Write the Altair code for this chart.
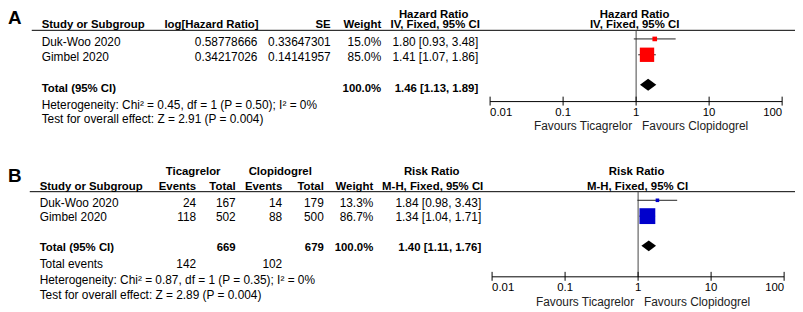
import altair as alt
import pandas as pd

# ---------------- data ----------------
studies = ["Duk-Woo 2020", "Gimbel 2020"]

# Panel A: hazard ratio (IV, fixed)
log_hr = ["0.58778666", "0.34217026"]
se_hr = ["0.33647301", "0.14141957"]
hr_weight = [15.0, 85.0]
hr_est = [1.80, 1.41]
hr_lo = [0.93, 1.07]
hr_hi = [3.48, 1.86]
hr_total = [1.46, 1.13, 1.89]
hr_het = "Heterogeneity: Chi² = 0.45, df = 1 (P = 0.50); I² = 0%"
hr_test = "Test for overall effect: Z = 2.91 (P = 0.004)"

# Panel B: risk ratio (M-H, fixed)
tica_events = [24, 118]
tica_total = [167, 502]
clop_events = [14, 88]
clop_total = [179, 500]
rr_weight = [13.3, 86.7]
rr_est = [1.84, 1.34]
rr_lo = [0.98, 1.04]
rr_hi = [3.43, 1.71]
rr_total = [1.40, 1.11, 1.76]
tica_sum = [142, 669]
clop_sum = [102, 679]
rr_het = "Heterogeneity: Chi² = 0.87, df = 1 (P = 0.35); I² = 0%"
rr_test = "Test for overall effect: Z = 2.89 (P = 0.004)"

tick_values = [0.01, 0.1, 1, 10, 100]
tick_labels = ["0.01", "0.1", "1", "10", "100"]

# ---------------- layout helpers ----------------
FONT = "Liberation Sans"
M = 8  # page margin
DA = 3  # vertical shift of panel A


def X(v):
    return v - M


def Y(v):
    return v - M


texts = []


def T(t, x, y, align="left", bold=False, size=12):
    texts.append(dict(t=str(t), x=X(x), y=Y(y), align=align, bold=bold, size=size))


def fmt_ci(e, lo, hi):
    return f"{e:.2f} [{lo:.2f}, {hi:.2f}]"


# ---------------- panel A texts ----------------
T("A", 8, 16.5, "left", True, 19)
T("Hazard Ratio", 438, 13.5, "center", True, 11.5)
T("Hazard Ratio", 641, 13.5, "center", True, 11.5)
hA = 21 + DA
T("Study or Subgroup", 42, hA, "left", True, 11.5)
T("log[Hazard Ratio]", 166, hA, "left", True, 11.5)
T("SE", 334, hA, "right", True, 11.5)
T("Weight", 385, hA, "right", True, 11.5)
T("IV, Fixed, 95% CI", 439.5, hA, "center", True, 11.5)
T("IV, Fixed, 95% CI", 641, hA, "center", True, 11.5)
rowsA = [38 + DA, 53 + DA]
for i, s in enumerate(studies):
    y = rowsA[i]
    T(s, 42, y)
    T(log_hr[i], 260, y, "right")
    T(se_hr[i], 334, y, "right")
    T(f"{hr_weight[i]:.1f}%", 385, y, "right")
    T(fmt_ci(hr_est[i], hr_lo[i], hr_hi[i]), 483, y, "right")
totA = 85 + DA
T("Total (95% CI)", 42, totA, "left", True, 11.5)
T("100.0%", 385, totA, "right", True, 11.5)
T(fmt_ci(*hr_total), 483, totA, "right", True, 11.5)
T(hr_het, 42, 101 + DA)
T(hr_test, 42, 116 + DA)

# ---------------- panel B texts ----------------
T("B", 8, 176.5, "left", True, 19)
T("Ticagrelor", 195, 172, "center", True, 11.5)
T("Clopidogrel", 283, 172, "center", True, 11.5)
T("Risk Ratio", 436, 172, "center", True, 11.5)
T("Risk Ratio", 643, 172, "center", True, 11.5)
hB = 187
T("Study or Subgroup", 40, hB, "left", True, 11.5)
T("Events", 198, hB, "right", True, 11.5)
T("Total", 238, hB, "right", True, 11.5)
T("Events", 285, hB, "right", True, 11.5)
T("Total", 327, hB, "right", True, 11.5)
T("Weight", 377, hB, "right", True, 11.5)
T("M-H, Fixed, 95% CI", 437, hB, "center", True, 11.5)
T("M-H, Fixed, 95% CI", 644, hB, "center", True, 11.5)
rowsB = [203, 218]
for i, s in enumerate(studies):
    y = rowsB[i]
    T(s, 40, y)
    T(tica_events[i], 198, y, "right")
    T(tica_total[i], 238, y, "right")
    T(clop_events[i], 285, y, "right")
    T(clop_total[i], 327, y, "right")
    T(f"{rr_weight[i]:.1f}%", 377, y, "right")
    T(fmt_ci(rr_est[i], rr_lo[i], rr_hi[i]), 486, y, "right")
totB = 249
T("Total (95% CI)", 40, totB, "left", True, 11.5)
T(tica_sum[1], 238, totB, "right", True, 11.5)
T(clop_sum[1], 327, totB, "right", True, 11.5)
T("100.0%", 377, totB, "right", True, 11.5)
T(fmt_ci(*rr_total), 486, totB, "right", True, 11.5)
T("Total events", 40, 265)
T(tica_sum[0], 198, 265, "right")
T(clop_sum[0], 285, 265, "right")
T(rr_het, 40, 281)
T(rr_test, 40, 296)

tdf = pd.DataFrame(texts)
layers = []
for (align, bold, size), g in tdf.groupby(["align", "bold", "size"]):
    layers.append(
        alt.Chart(g[["t", "x", "y"]]).mark_text(
            align=align, baseline="middle", font=FONT, fontSize=float(size),
            fontWeight="bold" if bold else "normal", color="black"
        ).encode(
            x=alt.X("x:Q", scale=None, axis=None),
            y=alt.Y("y:Q", scale=None, axis=None),
            text="t:N",
        )
    )

# header lines
hl = pd.DataFrame([
    dict(x=X(32), x2=X(803), y=Y(26 + DA)),
    dict(x=X(30), x2=X(803), y=Y(192)),
])
layers.append(
    alt.Chart(hl).mark_rule(color="black", strokeWidth=1).encode(
        x=alt.X("x:Q", scale=None, axis=None), x2="x2:Q",
        y=alt.Y("y:Q", scale=None, axis=None),
    )
)


def forest(scale, est, lo, hi, weights, total, rows_marker, tot_y, tot_h,
           top_y, axis_y, color, size_range):
    out = []
    xs = lambda f: alt.X(f, scale=scale, axis=None)
    ys = lambda f: alt.Y(f, scale=None, axis=None)
    # vertical line of no effect
    out.append(alt.Chart(pd.DataFrame([dict(v=1.0, y=Y(top_y), y2=Y(axis_y))]))
               .mark_rule(color="#444444", strokeWidth=1)
               .encode(x=xs("v:Q"), y=ys("y:Q"), y2="y2:Q"))
    # axis line
    out.append(alt.Chart(pd.DataFrame([dict(a=tick_values[0], b=tick_values[-1], y=Y(axis_y))]))
               .mark_rule(color="black", strokeWidth=1)
               .encode(x=xs("a:Q"), x2="b:Q", y=ys("y:Q")))
    tdf_ = pd.DataFrame(dict(v=tick_values, lab=tick_labels))
    tdf_["y"] = Y(axis_y - 5)
    tdf_["y2"] = Y(axis_y + 4)
    tdf_["ly"] = Y(axis_y + 11.5)
    out.append(alt.Chart(tdf_).mark_rule(color="black", strokeWidth=1)
               .encode(x=xs("v:Q"), y=ys("y:Q"), y2="y2:Q"))
    for sub, al in [(tdf_.iloc[[0]], "left"), (tdf_.iloc[1:-1], "center"), (tdf_.iloc[[-1]], "right")]:
        out.append(alt.Chart(sub).mark_text(align=al, baseline="middle", font=FONT,
                                            fontSize=11.5, color="black")
                   .encode(x=xs("v:Q"), y=ys("ly:Q"), text="lab:N"))
    fav = pd.DataFrame([dict(v=1.0, y=Y(axis_y + 25))])
    out.append(alt.Chart(fav).mark_text(align="right", baseline="middle", font=FONT,
                                        fontSize=12, color="#222222", dx=-4,
                                        text="Favours Ticagrelor")
               .encode(x=xs("v:Q"), y=ys("y:Q")))
    out.append(alt.Chart(fav).mark_text(align="left", baseline="middle", font=FONT,
                                        fontSize=12, color="#222222", dx=6,
                                        text="Favours Clopidogrel")
               .encode(x=xs("v:Q"), y=ys("y:Q")))
    # study CIs and squares
    sdf = pd.DataFrame(dict(e=est, lo=lo, hi=hi, w=weights))
    sdf["y"] = [Y(r) for r in rows_marker]
    out.append(alt.Chart(sdf).mark_rule(color="#222222", strokeWidth=1)
               .encode(x=xs("lo:Q"), x2="hi:Q", y=ys("y:Q")))
    out.append(alt.Chart(sdf).mark_square(color=color, opacity=1, filled=True)
               .encode(x=xs("e:Q"), y=ys("y:Q"),
                       size=alt.Size("w:Q", scale=alt.Scale(domain=[min(weights), max(weights)],
                                                            range=size_range), legend=None)))
    # pooled diamond
    e, l, h = total
    c = Y(tot_y)
    ddf = pd.DataFrame(dict(v=[l, e, h], y=[c, c - tot_h, c], y2=[c, c + tot_h, c]))
    out.append(alt.Chart(ddf).mark_area(color="black", orient="vertical", opacity=1)
               .encode(x=xs("v:Q"), y=alt.Y("y:Q", scale=None, axis=None, stack=None), y2="y2:Q"))
    return out


scaleA = alt.Scale(type="log", domain=[tick_values[0], tick_values[-1]], range=[X(495), X(790)])
scaleB = alt.Scale(type="log", domain=[tick_values[0], tick_values[-1]], range=[X(497), X(792)])

layers += forest(scaleA, hr_est, hr_lo, hr_hi, hr_weight, hr_total,
                 [34.7 + DA, 50.7 + DA], 81 + DA, 6, 26 + DA, 98 + DA, "#FF0000", [22, 210])
layers += forest(scaleB, rr_est, rr_lo, rr_hi, rr_weight, rr_total,
                 [200.7, 216.7], 246.7, 5.5, 192, 278, "#0000CC", [13, 256])

chart = alt.layer(*layers).resolve_scale(
    x="independent", y="independent", size="independent"
).properties(
    width=787, height=296, autosize="none",
    padding={"left": 0, "top": 0, "right": 8, "bottom": 8},
    background="white",
).configure_view(stroke=None)

chart.save("out.html", embed_options={"renderer": "svg", "actions": False})
